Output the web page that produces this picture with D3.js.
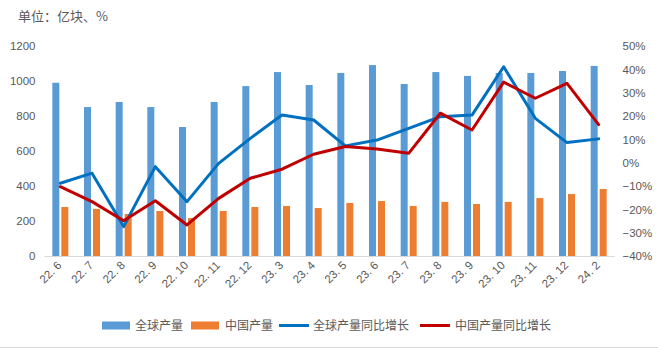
<!DOCTYPE html>
<html>
<head>
<meta charset="utf-8">
<script src="https://cdn.jsdelivr.net/npm/d3@7"></script>
<style>
  html, body { margin: 0; padding: 0; background: #fff; }
  svg { display: block; }
</style>
</head>
<body>
<svg id="chart" width="658" height="349"></svg>
<script>
// Monthly chip output: global vs. China (亿块) and year-on-year growth (%)
const categories = ["22. 6", "22. 7", "22. 8", "22. 9", "22. 10", "22. 11", "22. 12",
  "23. 3", "23. 4", "23. 5", "23. 6", "23. 7", "23. 8", "23. 9", "23. 10", "23. 11", "23. 12", "24. 2"];
const globalOutput = [990, 851, 880, 851, 737, 880, 971, 1051, 977, 1046, 1091, 983, 1051, 1029, 1046, 1046, 1057, 1086];
const chinaOutput = [280, 269, 240, 257, 217, 257, 280, 286, 274, 303, 314, 286, 309, 297, 309, 331, 354, 383];
const globalYoY = [-8.8, -4.5, -27.4, -1.7, -16.7, -0.3, 10.4, 20.4, 18.3, 7.2, 9.7, 14.7, 19.7, 20.4, 41.1, 19.0, 8.6, 10.2];
const chinaYoY = [-10.3, -16.7, -24.9, -16.3, -26.7, -15.3, -6.7, -2.8, 3.6, 6.9, 5.9, 4.0, 21.2, 14.0, 34.5, 27.6, 34.0, 16.3];
const leftTicks = [0, 200, 400, 600, 800, 1000, 1200];
const rightTicks = [-40, -30, -20, -10, 0, 10, 20, 30, 40, 50];
const seriesNames = ["全球产量", "中国产量", "全球产量同比增长", "中国产量同比增长"];

const colors = { global: "#5B9BD5", china: "#ED7D31", globalLine: "#0070C0", chinaLine: "#C00000" };
const textColor = "#595959";
const numFont = "'Liberation Sans', Arial, sans-serif";
const cjkFont = "'Noto Sans CJK SC', 'Noto Sans', sans-serif";

const svg = d3.select("#chart");
const plot = { left: 44.5, right: 614.5, top: 46, bottom: 256 };

const x = d3.scaleBand().domain(categories).range([plot.left, plot.right]).paddingInner(0).paddingOuter(0);
const yL = d3.scaleLinear().domain([0, 1200]).range([plot.bottom, plot.top]);
const yR = d3.scaleLinear().domain([-40, 50]).range([plot.bottom, plot.top]);

const bw = 7, gap = 2;
const pairOffset = (x.bandwidth() - (2 * bw + gap)) / 2;

// unit label
svg.append("text").attr("x", 18).attr("y", 21)
  .attr("font-family", cjkFont).attr("font-size", 13).attr("fill", textColor)
  .text("单位：亿块、%");

// left axis
const leftAxis = svg.append("g").attr("transform", `translate(${plot.left - 9},0)`)
  .call(d3.axisLeft(yL).tickValues(leftTicks).tickSize(0).tickPadding(0).tickFormat(d3.format("d")));
leftAxis.select(".domain").remove();
leftAxis.selectAll("text").attr("font-family", numFont).attr("font-size", 11.5).attr("fill", textColor);

// right axis
const rightAxis = svg.append("g").attr("transform", `translate(${plot.right + 8},0)`)
  .call(d3.axisRight(yR).tickValues(rightTicks).tickSize(0).tickPadding(0)
    .tickFormat(d => (d < 0 ? "\u2212" + Math.abs(d) : d) + "%"));
rightAxis.select(".domain").remove();
rightAxis.selectAll("text").attr("font-family", numFont).attr("font-size", 11.5).attr("fill", textColor);

// bars
svg.append("g").selectAll("rect").data(globalOutput).join("rect")
  .attr("x", (d, i) => x(categories[i]) + pairOffset)
  .attr("y", d => yL(d)).attr("width", bw).attr("height", d => yL(0) - yL(d))
  .attr("fill", colors.global);
svg.append("g").selectAll("rect").data(chinaOutput).join("rect")
  .attr("x", (d, i) => x(categories[i]) + pairOffset + bw + gap)
  .attr("y", d => yL(d)).attr("width", bw).attr("height", d => yL(0) - yL(d))
  .attr("fill", colors.china);

// baseline
svg.append("line").attr("x1", plot.left).attr("x2", plot.right)
  .attr("y1", plot.bottom + 0.5).attr("y2", plot.bottom + 0.5)
  .attr("stroke", "#d9d9d9").attr("stroke-width", 1);

// category labels
const xAxis = svg.append("g").attr("transform", `translate(0,${plot.bottom})`)
  .call(d3.axisBottom(x).tickSize(0).tickPadding(0));
xAxis.select(".domain").remove();
xAxis.selectAll("text")
  .attr("font-family", numFont).attr("font-size", 11.5).attr("fill", textColor)
  .attr("text-anchor", "end").attr("dy", null).attr("y", 0)
  .attr("transform", "translate(2,10) rotate(-45)");

// growth lines
const cx = i => x(categories[i]) + x.bandwidth() / 2;
const line = d3.line().x((d, i) => cx(i)).y(d => yR(d));
svg.append("path").datum(globalYoY).attr("d", line)
  .attr("fill", "none").attr("stroke", colors.globalLine).attr("stroke-width", 3)
  .attr("stroke-linejoin", "round").attr("stroke-linecap", "round");
svg.append("path").datum(chinaYoY).attr("d", line)
  .attr("fill", "none").attr("stroke", colors.chinaLine).attr("stroke-width", 3)
  .attr("stroke-linejoin", "round").attr("stroke-linecap", "round");

// legend
const legend = svg.append("g").attr("font-family", cjkFont).attr("font-size", 12).attr("fill", textColor);
const legendItems = [
  { name: seriesNames[0], type: "rect", color: colors.global, x: 102, tx: 135 },
  { name: seriesNames[1], type: "rect", color: colors.china, x: 191, tx: 225 },
  { name: seriesNames[2], type: "line", color: colors.globalLine, x: 279, tx: 313 },
  { name: seriesNames[3], type: "line", color: colors.chinaLine, x: 420, tx: 455 }
];
const ly = 325.5;
legendItems.forEach(it => {
  if (it.type === "rect") {
    legend.append("rect").attr("x", it.x).attr("y", ly - 4).attr("width", 28).attr("height", 8).attr("fill", it.color);
  } else {
    legend.append("line").attr("x1", it.x).attr("x2", it.x + 30).attr("y1", ly).attr("y2", ly)
      .attr("stroke", it.color).attr("stroke-width", 3);
  }
  legend.append("text").attr("x", it.tx).attr("y", ly + 4.5).text(it.name);
});

// bottom frame line
svg.append("line").attr("x1", 0).attr("x2", 658).attr("y1", 347.5).attr("y2", 347.5)
  .attr("stroke", "#d9d9d9").attr("stroke-width", 1);
</script>
</body>
</html>
